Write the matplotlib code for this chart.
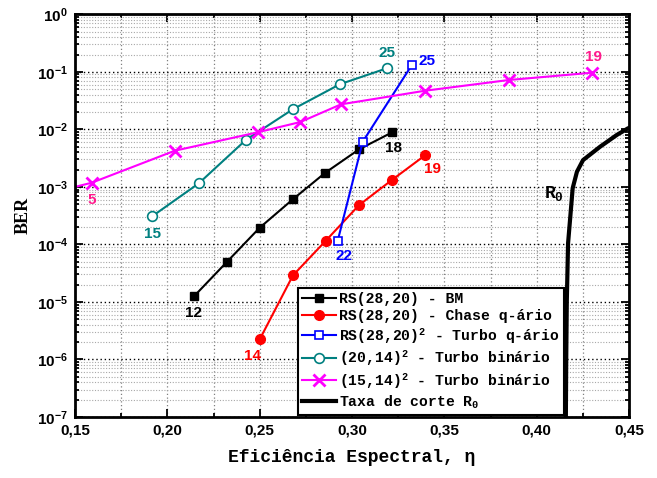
import numpy as np
import matplotlib
matplotlib.use('Agg')
from matplotlib import pyplot as plt
from matplotlib.ticker import MultipleLocator, LogLocator, FuncFormatter, NullFormatter

plt.rcParams['mathtext.fontset'] = 'custom'
plt.rcParams['mathtext.rm'] = 'Liberation Mono:bold'
plt.rcParams['mathtext.bf'] = 'Liberation Sans:bold'
plt.rcParams['mathtext.default'] = 'rm'

# RS(28,20) - BM
bm_x = [0.2145, 0.2323, 0.2500, 0.2679, 0.2855, 0.3038, 0.3217]
bm_y = [1.26e-5, 4.99e-5, 1.95e-4, 6.06e-4, 1.76e-3, 4.49e-3, 8.87e-3]
# RS(28,20) - Chase q-ario
chase_x = [0.2500, 0.2680, 0.2858, 0.3038, 0.3215, 0.3395]
chase_y = [2.23e-6, 2.89e-5, 1.16e-4, 4.82e-4, 1.31e-3, 3.53e-3]
# RS(28,20)^2 - Turbo q-ario
tq_x = [0.2922, 0.3058, 0.3323]
tq_y = [1.14e-4, 6.09e-3, 0.130]
# (20,14)^2 - Turbo binario
t20_x = [0.1917, 0.2170, 0.2424, 0.2679, 0.2935, 0.3188]
t20_y = [3.07e-4, 1.15e-3, 6.5e-3, 2.23e-2, 6.1e-2, 0.115]
# (15,14)^2 - Turbo binario (first point sits on the axis edge, no marker)
t15_x = [0.1500, 0.1590, 0.2040, 0.2490, 0.2720, 0.2940, 0.3395, 0.3848, 0.4300]
t15_y = [1.0e-3, 1.18e-3, 4.25e-3, 8.9e-3, 1.34e-2, 2.72e-2, 4.69e-2, 7.2e-2, 9.66e-2]
# taxa de corte R0
r0_x = [0.4158, 0.4160, 0.4163, 0.4170, 0.4195, 0.4218, 0.4251, 0.4343, 0.4433, 0.4494, 0.4520]
r0_y = [1e-7, 1e-6, 1e-5, 1.05e-4, 9.5e-4, 1.83e-3, 2.92e-3, 4.98e-3, 7.96e-3, 1.04e-2, 1.12e-2]

teal = '#008080'
pink = '#ff1a8c'

fig = plt.figure(figsize=(6.57, 4.78), dpi=100)
ax = fig.add_axes([0.1142, 0.1276, 0.8432, 0.8425])

ax.plot(bm_x, bm_y, '-s', color='k', lw=1.5, ms=6, mfc='k', mec='k',
        label='RS(28,20) - BM')
ax.plot(chase_x, chase_y, '-o', color='#ff0000', lw=1.5, ms=7, mfc='#ff0000', mec='#ff0000',
        label='RS(28,20) - Chase q-ário')
ax.plot(tq_x, tq_y, '-s', color='#0000ff', lw=1.5, ms=6, mfc='white', mec='#0000ff', mew=1.2,
        label='RS(28,20)$^2$ - Turbo q-ário')
ax.plot(t20_x, t20_y, '-o', color=teal, lw=1.5, ms=7, mfc='white', mec=teal, mew=1.2,
        label='(20,14)$^2$ - Turbo binário')
ax.plot(t15_x, t15_y, '-x', color='#ff00ff', lw=1.5, ms=9, mew=2,
        markevery=list(range(1, len(t15_x))), label='(15,14)$^2$ - Turbo binário')
ax.plot(r0_x, r0_y, '-', color='k', lw=3, label='Taxa de corte R$_0$')

# point labels (offsets in pixels from the point)
lab = dict(fontfamily='Liberation Sans', fontweight='bold', fontsize=11,
           ha='center', va='center', textcoords='offset pixels')
ax.annotate('12', (bm_x[0], bm_y[0]), xytext=(-1, -17), color='k', **lab)
ax.annotate('18', (bm_x[-1], bm_y[-1]), xytext=(1, -16), color='k', **lab)
ax.annotate('14', (chase_x[0], chase_y[0]), xytext=(-7, -17), color='#ff0000', **lab)
ax.annotate('19', (chase_x[-1], chase_y[-1]), xytext=(8, -14), color='#ff0000', **lab)
ax.annotate('22', (tq_x[0], tq_y[0]), xytext=(6, -15), color='#0000ff', **lab)
ax.annotate('25', (tq_x[-1], tq_y[-1]), xytext=(15, 4), color='#0000ff', **lab)
ax.annotate('15', (t20_x[0], t20_y[0]), xytext=(0, -18), color=teal, **lab)
ax.annotate('25', (t20_x[-1], t20_y[-1]), xytext=(0, 15), color=teal, **lab)
ax.annotate('5', (t15_x[1], t15_y[1]), xytext=(0, -17), color=pink, **lab)
ax.annotate('19', (t15_x[-1], t15_y[-1]), xytext=(1, 16), color=pink, **lab)

ax.text(0.4092, 7.8e-4, 'R$_0$', fontfamily='Liberation Mono', fontweight='bold',
        fontsize=13, ha='center', va='center')

ax.set_yscale('log')
ax.set_xlim(0.15, 0.45)
ax.set_ylim(1e-7, 1)

ax.xaxis.set_major_locator(MultipleLocator(0.05))
ax.xaxis.set_minor_locator(MultipleLocator(0.025))
ax.xaxis.set_major_formatter(FuncFormatter(lambda v, p: f'{v:.2f}'.replace('.', ',')))
ax.yaxis.set_major_locator(LogLocator(base=10, numticks=20))
ax.yaxis.set_minor_locator(LogLocator(base=10, subs=np.arange(2, 10), numticks=20))
ax.yaxis.set_minor_formatter(NullFormatter())
ax.yaxis.set_major_formatter(FuncFormatter(
    lambda v, p: r'$\mathbf{10^{%d}}$' % int(round(np.log10(v)))))

for t in ax.get_xticklabels() + ax.get_yticklabels():
    t.set_fontfamily('Liberation Sans')
    t.set_fontweight('bold')
    t.set_fontsize(11)

ax.tick_params(which='both', direction='in', top=True, right=True, width=1.3)
ax.tick_params(which='major', length=6, pad=5)
ax.tick_params(which='minor', length=3)

ax.grid(which='major', axis='y', ls=(0, (1, 2)), color='k', lw=1)
ax.grid(which='minor', axis='y', ls=(0, (1, 1.5)), color='#a8a8a8', lw=0.8)
ax.grid(which='both', axis='x', ls=(0, (1, 2)), color='#808080', lw=0.9)
ax.set_axisbelow(True)

for s in ax.spines.values():
    s.set_linewidth(2)

ax.set_xlabel('Eficiência Espectral, η', fontfamily='Liberation Mono', fontweight='bold',
              fontsize=13, labelpad=8)
ax.set_ylabel('BER', fontfamily='Liberation Serif', fontweight='bold', fontsize=13, labelpad=4)

leg = ax.legend(loc='lower left', bbox_to_anchor=(0.4025, 0.004), borderaxespad=0,
                prop={'family': 'Liberation Mono', 'weight': 'bold', 'size': 10.6},
                fancybox=False, framealpha=1, edgecolor='k', handlelength=2.3,
                handletextpad=0.2, labelspacing=0.2, borderpad=0.3)
leg.get_frame().set_linewidth(1.5)

fig.savefig('out.png', dpi=100)
